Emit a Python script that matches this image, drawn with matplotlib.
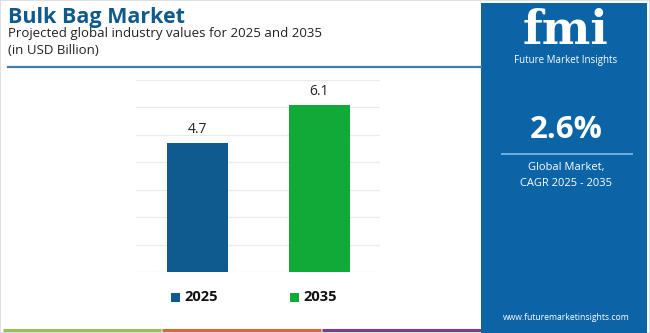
import matplotlib

matplotlib.use("Agg")
import matplotlib.pyplot as plt
from matplotlib.patches import Rectangle

years = ["2025", "2035"]
values = [4.7, 6.1]
bar_colors = ["#0f5a8e", "#0fab36"]
cagr_text = "2.6%"
y_ticks = [0, 1, 2, 3, 4, 5, 6, 7]

plt.rcParams["font.family"] = ["Open Sans", "DejaVu Sans"]

W, H = 650, 333
fig = plt.figure(figsize=(W / 100, H / 100), dpi=100)
fig.patch.set_facecolor("white")


def fx(px):
    return px / W


def fy(py):
    return 1 - py / H


# outer thin border
fig.patches.append(Rectangle((0, 0), 1, 1, transform=fig.transFigure,
                             fill=False, edgecolor="#d9d9d9", linewidth=1.2))

# header
fig.text(fx(8), fy(17), "Bulk Bag Market", fontsize=15.5, fontweight="bold",
         color="#0f5a8c", va="center", ha="left")
fig.text(fx(8), fy(33), "Projected global industry values for 2025 and 2035",
         fontsize=9.5, color="#222222", va="center", ha="left")
fig.text(fx(8), fy(51), "(in USD Billion)", fontsize=9.5, color="#222222",
         va="center", ha="left")
fig.add_artist(plt.Line2D([fx(8), fx(481)], [fy(67), fy(67)], transform=fig.transFigure,
                          color="#3d7fb4", linewidth=1.6))

# bottom coloured strip
for x0, x1, c in [(3, 161, "#94c25a"), (162, 321, "#e0643a"), (322, 481, "#7d3a8f")]:
    fig.add_artist(plt.Line2D([fx(x0), fx(x1)], [fy(330), fy(330)], transform=fig.transFigure,
                              color=c, linewidth=2.2, solid_capstyle="butt"))

# chart
ax = fig.add_axes([fx(136), fy(272), fx(380) - fx(136), (272 - 80) / H])
x = list(range(len(years)))
bars = ax.bar(x, values, width=0.5, color=bar_colors, zorder=3)
for xi, v in zip(x, values):
    ax.text(xi, v + 0.22, f"{v}", ha="center", va="bottom", fontsize=10, color="#222222")
ax.set_xlim(-0.5, 1.5)
ax.set_ylim(0, 7)
ax.set_yticks(y_ticks)
ax.yaxis.grid(True, color="#ebebeb", linewidth=0.9, zorder=0)
ax.set_xticks([])
ax.tick_params(axis="y", length=0, labelleft=False)
for s in ax.spines.values():
    s.set_visible(False)
ax.set_facecolor("none")

# legend
for lx, year, c in [(171, years[0], bar_colors[0]), (290, years[1], bar_colors[1])]:
    fig.patches.append(Rectangle((fx(lx), fy(302)), fx(9), 9 / H, transform=fig.transFigure,
                                 facecolor=c, edgecolor="none"))
    fig.text(fx(lx + 13), fy(297), year, fontsize=10.5, fontweight="bold", color="#111111",
             va="center", ha="left")

# right panel
panel = "#0b64a6"
fig.patches.append(Rectangle((fx(481), 0), fx(W - 481 - 3), 1 - 3 / H, transform=fig.transFigure,
                             facecolor=panel, edgecolor="none"))
cx = fx(566)
fig.text(cx, fy(44), "fmi", fontsize=33, fontweight="bold", family="DejaVu Serif",
         color="white", ha="center", va="baseline")
for yy in range(16, 45, 3):
    fig.add_artist(plt.Line2D([fx(514), fx(620)], [fy(yy), fy(yy)], transform=fig.transFigure,
                              color=panel, linewidth=0.6))
fig.text(cx, fy(60), "Future Market Insights", fontsize=7, color="white",
         ha="center", va="center")
fig.text(cx, fy(130), cagr_text, fontsize=22.5, fontweight="bold", color="white",
         ha="center", va="center")
fig.add_artist(plt.Line2D([fx(502), fx(632)], [fy(154), fy(154)], transform=fig.transFigure,
                          color="#6fb0e0", linewidth=1.4))
fig.text(cx, fy(168), "Global Market,", fontsize=8, color="white", ha="center", va="center")
fig.text(cx, fy(183), "CAGR 2025 - 2035", fontsize=8, color="white", ha="center", va="center")
fig.text(cx, fy(318), "www.futuremarketinsights.com", fontsize=6.2, color="white",
         ha="center", va="center")

fig.savefig("out.png", dpi=100, facecolor=fig.get_facecolor())
